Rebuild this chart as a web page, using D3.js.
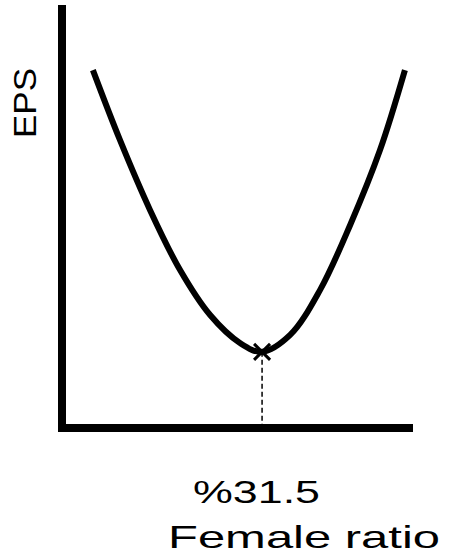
<!DOCTYPE html>
<html><head><meta charset="utf-8">
<script src="https://cdn.jsdelivr.net/npm/d3@7"></script>
<style>body{margin:0;background:#fff}</style></head>
<body><svg id="c" width="474" height="558"></svg>
<script>
const ratio = [8.8,16.5,25.1,33.6,42.2,50.7,57.0,65.0,73.5,82.1,90.6,97.7];
const eps   = [84.6,68.1,51.5,37.4,26.7,20.1,18.0,22.0,32.6,48.0,65.7,84.6];
const minRatio = 57.0, minEps = 18.0;
const xLabel = "%31.5", xTitle = "Female ratio", yTitle = "EPS";

const svg = d3.select("#c");
const x = d3.scaleLinear().domain([0,100]).range([62,413]);
const y = d3.scaleLinear().domain([0,100]).range([428,5]);
const data = ratio.map((r,i)=>[r,eps[i]]);

svg.append("line").attr("x1",x(0)).attr("x2",x(0)).attr("y1",y(100)).attr("y2",y(0)+4)
  .attr("stroke","#000").attr("stroke-width",8);
svg.append("line").attr("x1",x(0)-4).attr("x2",x(100)).attr("y1",y(0)).attr("y2",y(0))
  .attr("stroke","#000").attr("stroke-width",8);

svg.append("line").attr("x1",x(minRatio)).attr("x2",x(minRatio)).attr("y1",y(minEps)).attr("y2",y(0))
  .attr("stroke","#000").attr("stroke-width",1.5).attr("stroke-dasharray","5,3");

svg.append("path").datum(data)
  .attr("d",d3.line().x(d=>x(d[0])).y(d=>y(d[1])).curve(d3.curveCatmullRom))
  .attr("fill","none").attr("stroke","#000").attr("stroke-width",6);

const cx=x(minRatio), cy=y(minEps), s=8;
svg.append("path").attr("d",`M${cx-s},${cy-s}L${cx+s},${cy+s}M${cx-s},${cy+s}L${cx+s},${cy-s}`)
  .attr("stroke","#000").attr("stroke-width",3);

const f = "Liberation Sans, Arial, sans-serif";
svg.append("text").attr("x",193).attr("y",503)
  .attr("font-family",f).attr("font-size",32).attr("textLength",127).attr("lengthAdjust","spacingAndGlyphs").text(xLabel);
svg.append("text").attr("x",168).attr("y",548)
  .attr("font-family",f).attr("font-size",32).attr("textLength",272).attr("lengthAdjust","spacingAndGlyphs").text(xTitle);
svg.append("text").attr("transform","translate(36,138) rotate(-90)")
  .attr("font-family",f).attr("font-size",32).attr("textLength",70).attr("lengthAdjust","spacingAndGlyphs").text(yTitle);
</script></body></html>
